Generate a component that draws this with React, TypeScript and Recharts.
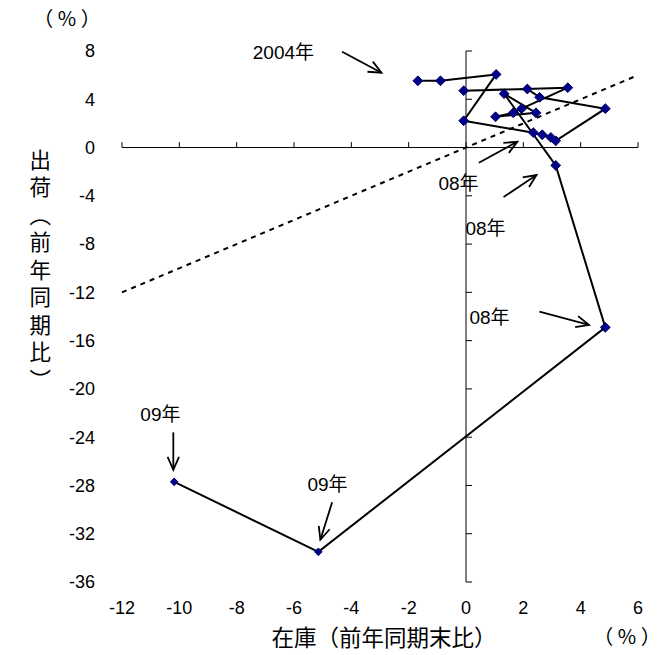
import React from 'react';
import { ComposedChart, Scatter, XAxis, YAxis, ReferenceLine, ReferenceDot } from 'recharts';

// quarterly path, 2004Q1 .. 2009Q2
const periods = ['04Q1','04Q2','04Q3','04Q4','05Q1','05Q2','05Q3','05Q4','06Q1','06Q2','06Q3','06Q4','07Q1','07Q2','07Q3','07Q4','08Q1','08Q2','08Q3','08Q4','09Q1','09Q2'];
const inventory = [-1.68, -0.89, 1.05, -0.08, 2.35, 2.66, 2.96, 3.13, 4.86, 2.57, 2.14, -0.08, 3.55, 1.94, 1.65, 1.03, 2.44, 1.33, 3.13, 4.86, -5.15, -10.18];
const shipments = [5.53, 5.53, 6.06, 2.22, 1.23, 1.06, 0.84, 0.56, 3.22, 4.16, 4.85, 4.71, 4.96, 3.22, 2.88, 2.55, 2.88, 4.46, -1.48, -14.9, -33.5, -27.7];

const xTicks = [-12, -10, -8, -6, -4, -2, 0, 2, 4, 6];
const yTicks = [-36, -32, -28, -24, -20, -16, -12, -8, -4, 0, 4, 8];

// 45-degree guide line endpoints
const guideX = [-12, 6];
const guideY = [-12, 6];

// annotations
const noteTexts = ['2004年', '08年', '08年', '08年', '09年', '09年'];
const noteX = [-6.37, -0.26, 0.68, 0.82, -10.66, -4.83];
const noteY = [7.91, -2.95, -6.67, -14.06, -22.16, -27.96];
const arrowFromX = [-4.32, 0.45, 1.31, 2.56, -10.21, -4.67];
const arrowFromY = [7.94, -1.26, -4.1, -13.6, -23.6, -29.4];
const arrowToX = [-2.95, 1.79, 2.46, 4.29, -10.21, -5.08];
const arrowToY = [6.2, 0.48, -2.28, -14.7, -26.7, -32.5];

const pathData = periods.map((p, i) => ({ period: p, x: inventory[i], y: shipments[i] }));

const NUM_FONT = '"Liberation Sans", Arial, sans-serif';
const CJK_FONT = '"Noto Sans CJK JP", "Liberation Sans", sans-serif';
const MIX_FONT = '"Liberation Sans", "Noto Sans CJK JP", sans-serif';

const Diamond = (props: any) => {
  const { cx, cy, payload } = props;
  if (cx == null || cy == null) return null;
  const small = String(payload?.period || '').startsWith('09');
  const s = small ? 3.8 : 4.9;
  return (
    <polygon
      points={`${cx},${cy - s} ${cx + s},${cy} ${cx},${cy + s} ${cx - s},${cy}`}
      fill="#00008B"
      stroke="#000060"
      strokeWidth={1}
    />
  );
};

const makeNote = (label: string) => (props: any) => {
  const { cx, cy } = props;
  if (cx == null || cy == null) return null;
  return (
    <text x={cx} y={cy} textAnchor="middle" dominantBaseline="central" fontSize={19} fontFamily={MIX_FONT} fill="#000">
      {label}
    </text>
  );
};

const Arrow = (props: any) => {
  const { x1, y1, x2, y2 } = props;
  if ([x1, y1, x2, y2].some((v) => v == null || isNaN(v))) return null;
  const ang = Math.atan2(y2 - y1, x2 - x1);
  const L = 14;
  const a = 0.42;
  const hx1 = x2 - L * Math.cos(ang - a);
  const hy1 = y2 - L * Math.sin(ang - a);
  const hx2 = x2 - L * Math.cos(ang + a);
  const hy2 = y2 - L * Math.sin(ang + a);
  return (
    <g>
      <line x1={x1} y1={y1} x2={x2} y2={y2} stroke="#000" strokeWidth={1.8} />
      <polyline points={`${hx1},${hy1} ${x2},${y2} ${hx2},${hy2}`} fill="none" stroke="#000" strokeWidth={1.8} />
    </g>
  );
};

const W = 663;
const H = 647;

export default function App() {
  return (
    <div style={{ position: 'relative', width: W, height: H }}>
      <ComposedChart width={W} height={H} margin={{ top: 43, right: 33, bottom: 33, left: 34 }}>
        <XAxis
          type="number"
          dataKey="x"
          domain={[-12, 6]}
          ticks={xTicks}
          axisLine={false}
          tickLine={false}
          tickMargin={13}
          height={40}
          interval={0}
          tick={{ fontSize: 18, fontFamily: NUM_FONT, fill: '#000' }}
          allowDataOverflow
        />
        <YAxis
          type="number"
          dataKey="y"
          domain={[-36, 8]}
          ticks={yTicks}
          axisLine={false}
          tickLine={false}
          tickMargin={21}
          width={80}
          interval={0}
          tick={{ fontSize: 18, fontFamily: NUM_FONT, fill: '#000' }}
          allowDataOverflow
        />
        <ReferenceLine
          segment={[{ x: guideX[0], y: guideY[0] }, { x: guideX[1], y: guideY[1] }]}
          stroke="#000"
          strokeWidth={2}
          strokeDasharray="5 5"
          ifOverflow="visible"
        />
        <ReferenceLine y={0} stroke="#000" strokeWidth={1} ifOverflow="visible" />
        <ReferenceLine x={0} stroke="#000" strokeWidth={1} ifOverflow="visible" />
        {xTicks.map((t) => (
          <ReferenceLine key={'xt' + t} segment={[{ x: t, y: 0 }, { x: t, y: 0.45 }]} stroke="#000" strokeWidth={1} ifOverflow="visible" />
        ))}
        {yTicks.map((t) => (
          <ReferenceLine key={'yt' + t} segment={[{ x: 0, y: t }, { x: 0.21, y: t }]} stroke="#000" strokeWidth={1} ifOverflow="visible" />
        ))}
        {noteTexts.map((t, i) => (
          <ReferenceLine
            key={'ar' + i}
            segment={[{ x: arrowFromX[i], y: arrowFromY[i] }, { x: arrowToX[i], y: arrowToY[i] }]}
            shape={Arrow}
            ifOverflow="visible"
          />
        ))}
        {noteTexts.map((t, i) => (
          <ReferenceDot key={'nt' + i} x={noteX[i]} y={noteY[i]} r={0} shape={makeNote(t)} ifOverflow="visible" />
        ))}
        <Scatter
          data={pathData}
          line={{ stroke: '#000', strokeWidth: 2 }}
          lineJointType="linear"
          shape={Diamond}
          isAnimationActive={false}
        />
      </ComposedChart>
      <div style={{ position: 'absolute', left: 59, top: 10, transform: 'translate(-50%,-50%)', fontFamily: CJK_FONT, fontSize: 20, whiteSpace: 'pre', lineHeight: 1 }}>（ % ）</div>
      <div style={{ position: 'absolute', left: 32, top: 141, transform: 'translateX(-50%)', writingMode: 'vertical-rl', fontFamily: CJK_FONT, fontSize: 21.5, letterSpacing: 6, whiteSpace: 'nowrap', lineHeight: 1 }}>出荷（前年同期比）</div>
      <div style={{ position: 'absolute', left: 376, top: 628, transform: 'translate(-50%,-50%)', fontFamily: CJK_FONT, fontSize: 22.5, whiteSpace: 'nowrap', lineHeight: 1 }}>在庫（前年同期末比）</div>
      <div style={{ position: 'absolute', left: 619, top: 628, transform: 'translate(-50%,-50%)', fontFamily: CJK_FONT, fontSize: 20, whiteSpace: 'pre', lineHeight: 1 }}>（ % ）</div>
    </div>
  );
}
